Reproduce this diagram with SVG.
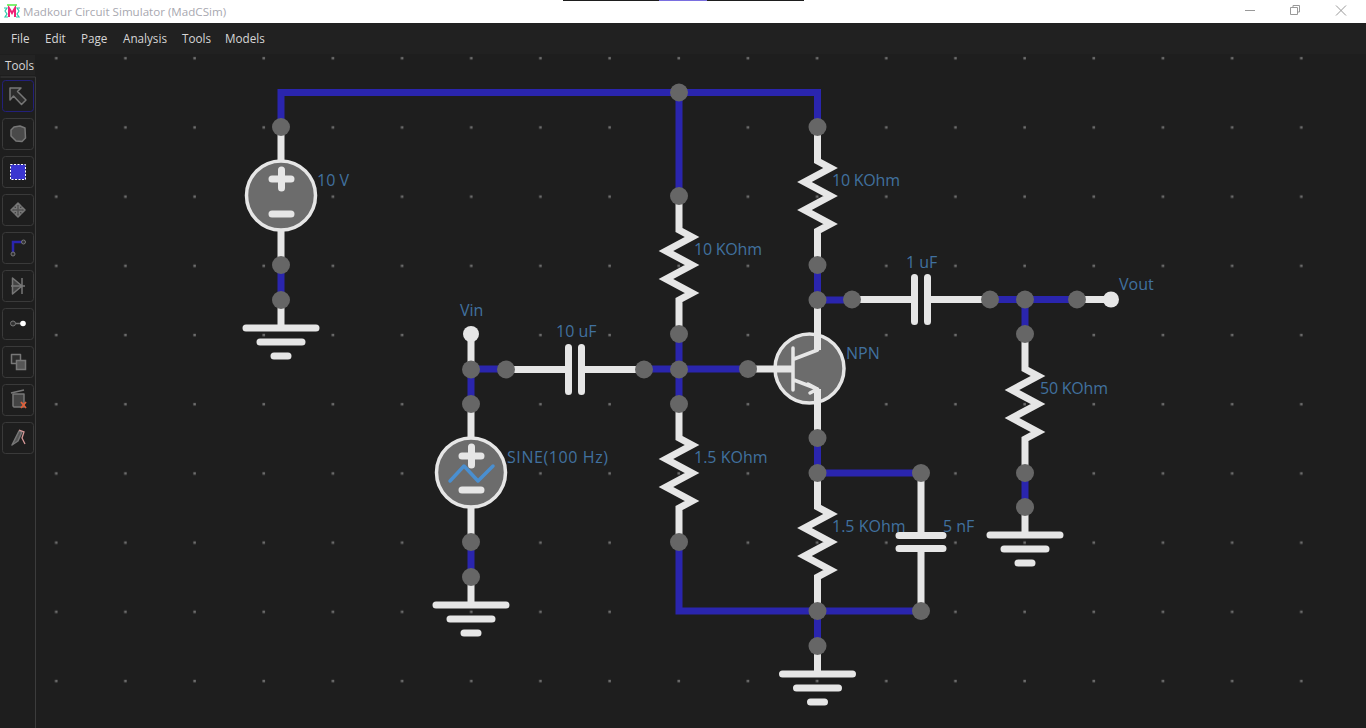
<svg xmlns="http://www.w3.org/2000/svg" xmlns:xlink="http://www.w3.org/1999/xlink" width="1366" height="728" viewBox="0 0 1366 728">
<style>
.w{fill:none;stroke:#e6e6e6;stroke-width:7;stroke-linejoin:miter}
.b{fill:none;stroke:#2a25ae;stroke-width:7;stroke-linejoin:miter}
.p{fill:none;stroke:#e6e6e6;stroke-width:7;stroke-linecap:round}
.t{fill:none;stroke:#e6e6e6;stroke-width:3.5;stroke-linecap:round;stroke-linejoin:round}
.body{fill:#6c6c6c;stroke:#e6e6e6;stroke-width:3.5}
.n{fill:#666}
.lab{font:16px "Open Sans","Liberation Sans",sans-serif;fill:#41719f}
.menu{font:11.700px "Open Sans","Liberation Sans",sans-serif;fill:#d6d6d6}
.title{font:11.600px "Open Sans","Liberation Sans",sans-serif;fill:#a8a8b0}
.btn{fill:#1e1e1e;stroke:#3a3a3a;stroke-width:1}
.ic{fill:#2c2c2c;stroke:#777;stroke-width:1.500;stroke-linejoin:round}
.d{fill:#6e6e6e}
</style>
<defs>
<g id="res"><path class="w" d="M0-69V-35L13-28-13-14 13 0-13 14 13 28 0 35V69"/></g>
<g id="capv"><path class="w" d="M0-69V-7M0 7V69"/><path class="p" d="M-22-6.500H22M-22 6.500H22" stroke-width="6.500"/></g>
<g id="gnd"><path class="w" d="M0 0V28"/><path class="p" d="M-35 28H35M-21 42H21M-7 56H7"/></g>
<circle id="node" r="9" class="n"/>
<pattern id="grid" x="21" y="23.500" width="69.170" height="69.200" patternUnits="userSpaceOnUse"><rect x="34" y="33.500" width="2.500" height="2.500" fill="#6e6e6e"/></pattern>
</defs>

<g id="window">
<rect width="1366" height="728" fill="#1e1e1e"/>
<rect y="23" width="1366" height="31" fill="#212121"/>
<rect y="54" x="36" width="1330" height="674" fill="url(#grid)"/>
<rect width="1366" height="23" fill="#fff"/>
<rect x="563" width="241" height="1" fill="#1e1e1e"/>
<rect x="659" width="48" height="1" fill="#7a6fe0"/>
<path d="M4 8H7L5 11 7 14 5 17H8M20 8H17L19 11 17 14 19 17H16" stroke="#2cc8a8" stroke-width="1.200" fill="none"/>
<path d="M9 17V8L12 13 15 8V17" stroke="#ee2277" stroke-width="2" fill="none"/>
<path d="M7 5H17" stroke="#55ee44" stroke-width="1.500"/>
<text class="title" x="23" y="16">Madkour Circuit Simulator (MadCSim)</text>
<path d="M1245 10.500H1255" stroke="#999"/>
<path d="M1293 7.500V5.500H1299.500V12H1297.500M1290.500 7.500h7v7h-7z" fill="none" stroke="#999"/>
<path d="M1336 5.500L1346 15.500M1346 5.500L1336 15.500" stroke="#999"/>
<text class="menu" x="11" y="43">File</text>
<text class="menu" x="45" y="43">Edit</text>
<text class="menu" x="81" y="43">Page</text>
<text class="menu" x="123" y="43">Analysis</text>
<text class="menu" x="182" y="43">Tools</text>
<text class="menu" x="225" y="43">Models</text>
<rect x="0" y="55" width="35" height="20" fill="#232323"/>
<text class="menu" x="5" y="70">Tools</text>
<path d="M0.500 77H35.500V728" fill="none" stroke="#3c3c3c"/>
</g>

<g id="toolbar">
<rect class="btn" x="2.500" y="80.500" width="31" height="31" rx="3" style="stroke:#23207a"/>
<path class="ic" d="M10 88H21L17.500 91.500 26 100 21.500 104.500 13.500 96 10 100Z"/>
<rect class="btn" x="2.500" y="118.500" width="31" height="31" rx="3"/>
<path class="ic" d="M11 130L14 127 20 126 25 128 25.500 138 22 141.500 16 141 11 136Z" style="fill:#4a4a4a"/>
<rect class="btn" x="2.500" y="156.500" width="31" height="31" rx="3"/>
<rect x="10.500" y="164.500" width="15" height="15" fill="#3a35d0" stroke="#fff" stroke-dasharray="2 1.500"/>
<rect class="btn" x="2.500" y="194.500" width="31" height="31" rx="3"/>
<path class="ic" d="M18 203L21 206H19.500V208.500H22V207L25 210 22 213V211.500H19.500V214H21L18 217 15 214H16.500V211.500H14V213L11 210 14 207V208.500H16.500V206H15Z" style="fill:#555"/>
<rect class="btn" x="2.500" y="232.500" width="31" height="31" rx="3"/>
<path d="M13 253V242H23" fill="none" stroke="#2a25ae" stroke-width="2.500"/>
<circle cx="13" cy="254" r="2" fill="#333" stroke="#777"/><circle cx="23.500" cy="242" r="2" fill="#333" stroke="#777"/>
<rect class="btn" x="2.500" y="270.500" width="31" height="31" rx="3"/>
<path class="ic" d="M12.500 278V294L22 286ZM22 278V294M11 286H25" style="fill:#444"/>
<rect class="btn" x="2.500" y="308.500" width="31" height="31" rx="3"/>
<path class="ic" d="M15 323.500H21"/><circle cx="13" cy="323.500" r="2.500" fill="#333" stroke="#777"/><circle cx="23" cy="323.500" r="2.800" fill="#fff"/>
<rect class="btn" x="2.500" y="346.500" width="31" height="31" rx="3"/>
<rect x="11.500" y="354.500" width="9" height="9" class="ic"/><rect x="16.500" y="360.500" width="9" height="9" fill="#555" stroke="#777" stroke-width="1.500"/>
<rect class="btn" x="2.500" y="384.500" width="31" height="31" rx="3"/>
<path class="ic" d="M13 394H24V407H14L13 406Z" style="fill:#444"/><path class="ic" d="M11 393L24 390"/><path d="M21 402L26 408M26 402L21 408" stroke="#e0603a" stroke-width="1.800"/>
<rect class="btn" x="2.500" y="422.500" width="31" height="31" rx="3"/>
<path class="ic" d="M12 445L19 431 22 432 18 441Z" style="fill:#555"/><path d="M19 430L24 432 22 438 25 444" fill="none" stroke="#d89a9a" stroke-width="1.300"/>
</g>

<g id="connectors">
<path class="b" d="M281 127V92.500H817.500V127M679 92V196M679 334V404M281 265V300M471 369V404M471 369H506M644 369H748M471 542V577M817.500 265V300H852M990 299.500H1077M1025 300V334M1025 473V507M817.500 438V473M817.500 473H921M679 542V611H921M817.500 611V646"/>
<path class="w" d="M281 127V162M281 230V265M471 334V369M471 404V440M471 506V542M1077 299.500H1111"/>
</g>

<g id="V1"><circle class="body" cx="281" cy="195.500" r="34.500"/><path class="p" d="M272 179H291M281.500 170V188M272 214H291" stroke-width="6"/><use xlink:href="#node" x="281" y="127"/><use xlink:href="#node" x="281" y="265"/><text class="lab" x="317" y="186">10 V</text></g>
<g id="G1"><use xlink:href="#gnd" x="281" y="300"/><use xlink:href="#node" x="281" y="300"/></g>
<g id="R1"><use xlink:href="#res" x="817.500" y="196"/><use xlink:href="#node" x="817.500" y="127"/><use xlink:href="#node" x="817.500" y="265"/><text class="lab" x="832" y="186" textLength="68">10 KOhm</text></g>
<g id="R2"><use xlink:href="#res" x="679" y="265"/><use xlink:href="#node" x="679" y="196"/><use xlink:href="#node" x="679" y="334"/><text class="lab" x="694" y="255" textLength="68">10 KOhm</text></g>
<g id="R3"><use xlink:href="#res" x="679" y="473"/><use xlink:href="#node" x="679" y="404"/><use xlink:href="#node" x="679" y="542"/><text class="lab" x="694" y="463">1.5 KOhm</text></g>
<g id="R4"><use xlink:href="#res" x="817.500" y="542"/><use xlink:href="#node" x="817.500" y="473"/><use xlink:href="#node" x="817.500" y="611"/><text class="lab" x="832" y="532">1.5 KOhm</text></g>
<g id="R5"><use xlink:href="#res" x="1025" y="404"/><use xlink:href="#node" x="1025" y="334"/><use xlink:href="#node" x="1025" y="473"/><text class="lab" x="1040" y="394" textLength="68">50 KOhm</text></g>
<g id="C1"><use xlink:href="#capv" transform="translate(575 369.500) rotate(90)"/><use xlink:href="#node" x="506" y="369.500"/><use xlink:href="#node" x="644" y="369.500"/><text class="lab" x="556" y="337">10 uF</text></g>
<g id="C2"><use xlink:href="#capv" transform="translate(921 299.500) rotate(90)"/><use xlink:href="#node" x="852" y="299.500"/><use xlink:href="#node" x="990" y="299.500"/><text class="lab" x="906" y="268">1 uF</text></g>
<g id="C3"><use xlink:href="#capv" x="921" y="542"/><use xlink:href="#node" x="921" y="473"/><use xlink:href="#node" x="921" y="611"/><text class="lab" x="943" y="532">5 nF</text></g>
<g id="Q1"><circle class="body" cx="809.500" cy="368.500" r="34.500"/><path class="w" d="M748 369H793M817.500 300V350M817.500 389V438"/><path class="t" d="M793 348V390M794 359L817.500 350M794 380L817.500 389M808 384L817.500 389 810 393"/><use xlink:href="#node" x="748" y="369"/><use xlink:href="#node" x="817.500" y="438"/><text class="lab" x="846" y="359">NPN</text></g>
<g id="V2"><circle class="body" cx="471" cy="472.500" r="34.500"/><path class="p" d="M462 456H481M471.500 447V465M462 490H481" stroke-width="6"/><path d="M450 481L464 466 478 481 493 466" fill="none" stroke="#4a8fd0" stroke-width="3.500" stroke-linecap="round" stroke-linejoin="round"/><use xlink:href="#node" x="471" y="404"/><use xlink:href="#node" x="471" y="542"/><text class="lab" x="507" y="463" textLength="101">SINE(100 Hz)</text></g>
<g id="G2"><use xlink:href="#gnd" x="471" y="577"/><use xlink:href="#node" x="471" y="577"/></g>
<g id="G3"><use xlink:href="#gnd" x="817.500" y="646"/><use xlink:href="#node" x="817.500" y="646"/></g>
<g id="G4"><use xlink:href="#gnd" x="1025" y="507"/><use xlink:href="#node" x="1025" y="507"/></g>
<g id="Vin"><circle cx="471" cy="334" r="8" fill="#e6e6e6"/><text class="lab" x="460" y="316">Vin</text></g>
<g id="Vout"><circle cx="1111" cy="299.500" r="8" fill="#e6e6e6"/><text class="lab" x="1119" y="290">Vout</text></g>
<g id="junctions"><use xlink:href="#node" x="679" y="92.500"/><use xlink:href="#node" x="817.500" y="300"/><use xlink:href="#node" x="1025" y="299.500"/><use xlink:href="#node" x="1077" y="299.500"/><use xlink:href="#node" x="471" y="369.500"/><use xlink:href="#node" x="679" y="369.500"/></g>
</svg>
